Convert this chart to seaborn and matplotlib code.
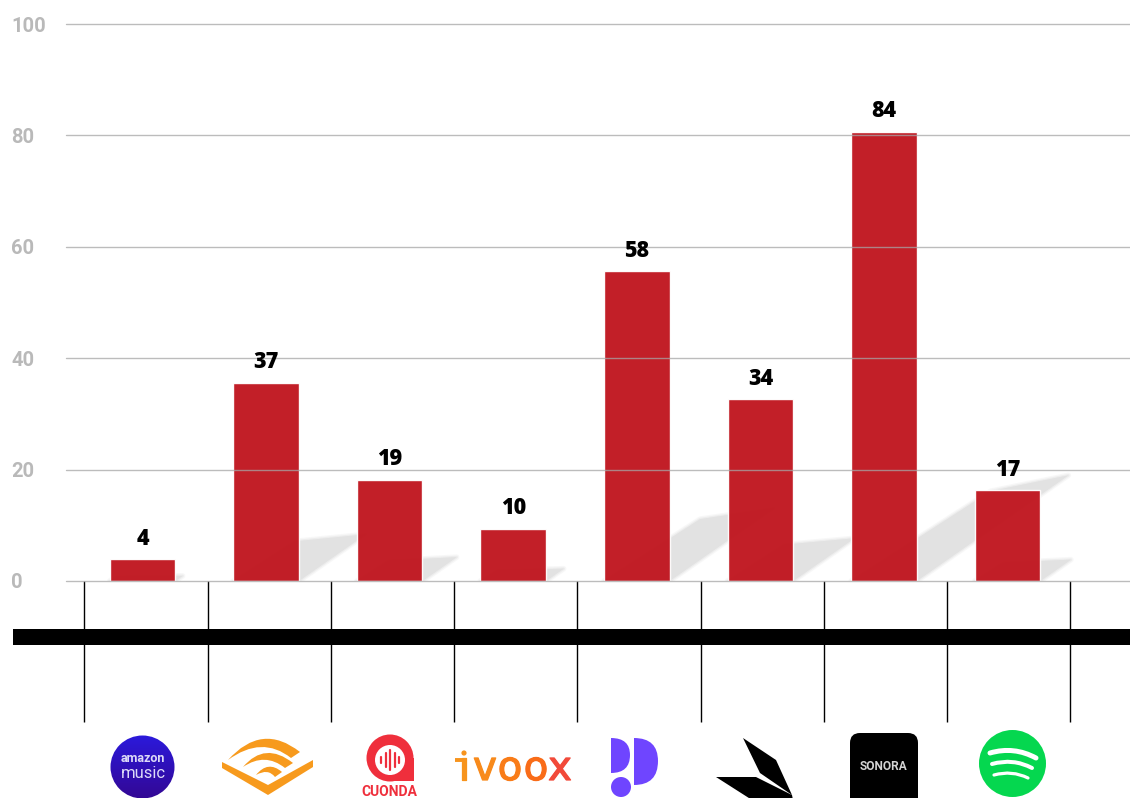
import numpy as np
import seaborn as sns
import matplotlib.pyplot as plt
import matplotlib.patheffects as pe
from matplotlib.patches import Circle, Ellipse, FancyBboxPatch, PathPatch, Polygon, Rectangle
from matplotlib.path import Path

platforms = ['Amazon Music', 'Audible', 'Cuonda', 'iVoox', 'Podimo', 'Podium', 'Sonora', 'Spotify']
bar_values = [3.9, 35.6, 18.2, 9.4, 55.6, 32.6, 80.7, 16.3]
bar_labels = ['4', '37', '19', '10', '58', '34', '84', '17']
y_ticks = [0, 20, 40, 60, 80, 100]

RED = '#c0161f'
W, H = 1130, 798


def curve(ax, pts, color, lw_px):
    # stroked quadratic curve, width given in pixels
    path = Path(pts, [Path.MOVETO, Path.CURVE3, Path.CURVE3])
    ax.add_patch(PathPatch(path, fill=False, edgecolor=color, lw=lw_px * 0.72, capstyle='round'))


def crescent(ax, a, ctrl1, b, c, ctrl2, d, color):
    path = Path([a, ctrl1, b, c, ctrl2, d, a],
                [Path.MOVETO, Path.CURVE3, Path.CURVE3, Path.LINETO, Path.CURVE3, Path.CURVE3, Path.CLOSEPOLY])
    ax.add_patch(PathPatch(path, facecolor=color, edgecolor='none'))


def amazon_logo(ax):
    yy = np.linspace(0, 1, 64).reshape(-1, 1, 1)
    top, bottom = np.array([0.17, 0.10, 0.86]), np.array([0.20, 0.03, 0.58])
    grad = top + (bottom - top) * yy
    img = ax.imshow(grad, extent=(110, 175, 799, 735), aspect='auto', zorder=2)
    img.set_clip_path(Ellipse((142.5, 767), 64, 63, transform=ax.transData))
    ax.text(143, 758, 'amazon', color='#dcdaf8', fontsize=9, fontweight='bold',
            family='Roboto', ha='center', va='center', zorder=3)
    ax.text(143, 774, 'music', color='#dcdaf8', fontsize=12, family='Roboto',
            ha='center', va='center', zorder=3)
    curve(ax, [(128, 764), (142, 769), (154, 763)], '#9fb4ff', 1.2)


def audible_logo(ax):
    c = '#f79a1d'
    ax.add_patch(Polygon([(222, 762), (268, 785), (313, 760), (313, 767), (268, 795), (222, 768)],
                         color=c, lw=0))
    crescent(ax, (228, 760), (262, 722), (300, 752), (291, 758), (262, 735), (228, 760), c)
    crescent(ax, (243, 767), (265, 741), (293, 763), (285, 768), (265, 752), (243, 767), c)
    crescent(ax, (256, 775), (268, 760), (282, 772), (275, 777), (268, 768), (256, 775), c)


def cuonda_logo(ax):
    c = '#ef2f3c'
    ax.add_patch(Circle((390, 758), 23.5, color=c, lw=0))
    ax.add_patch(Polygon([(366.5, 758), (413.5, 758), (413.5, 781), (390, 781)], color=c, lw=0))
    ax.add_patch(Circle((390, 760), 15, color='white', lw=0))
    for dx, half in zip([-9, -4.5, 0, 4.5, 9], [3, 7, 10, 7, 3]):
        ax.plot([390 + dx] * 2, [760 - half, 760 + half], color=c, lw=1.6, solid_capstyle='round')
    ax.text(389.5, 791.5, 'CUONDA', color=c, fontsize=10, fontweight='bold', family='Roboto',
            ha='center', va='center')


def ivoox_logo(ax):
    letters = ['ı', 'v', 'o', 'o', 'x']
    xs = [464, 485, 510, 536, 560]
    colors = ['#f7941d', '#f88a1b', '#f97c18', '#f96c18', '#f24a3a']
    for ch, x, c in zip(letters, xs, colors):
        ax.text(x, 780, ch, color=c, fontsize=29, family='DejaVu Sans', ha='center', va='baseline',
                path_effects=[pe.withStroke(linewidth=0.9, foreground=c)])
    ax.plot([455, 466], [759.5, 759.5], color=colors[0], lw=2.8, solid_capstyle='butt')
    ax.add_patch(Circle((464, 753), 2.6, color=colors[0], lw=0))


def podimo_logo(ax):
    c = '#6f45ff'
    left = Path([(611, 738), (630, 738), (630, 755), (630, 773), (611, 773), (611, 738)],
                [Path.MOVETO, Path.CURVE3, Path.CURVE3, Path.CURVE3, Path.CURVE3, Path.CLOSEPOLY])
    right = Path([(634, 738), (658, 738), (658, 761), (658, 785), (634, 785), (634, 738)],
                 [Path.MOVETO, Path.CURVE3, Path.CURVE3, Path.CURVE3, Path.CURVE3, Path.CLOSEPOLY])
    ax.add_patch(PathPatch(left, color=c, lw=0))
    ax.add_patch(PathPatch(right, color=c, lw=0))
    ax.add_patch(Circle((621, 787), 10, color=c, lw=0))


def podium_logo(ax):
    ax.add_patch(Polygon([(743, 738), (776, 760), (792, 795), (760, 773)], color='black', lw=0))
    ax.add_patch(Polygon([(716, 777), (756, 777), (792, 795), (793, 800), (752, 800)], color='black', lw=0))


def sonora_logo(ax):
    ax.add_patch(FancyBboxPatch((860, 743), 48, 60, boxstyle='round,pad=10,rounding_size=10',
                                facecolor='black', edgecolor='none'))
    ax.text(884, 767, 'SONORA', color='#d4d4d4', fontsize=8.6, fontweight='bold', family='Roboto',
            ha='center', va='center')


def spotify_logo(ax):
    ax.add_patch(Circle((1012.5, 763.5), 33.5, color='#05d74f', lw=0))
    curve(ax, [(990, 753), (1014, 746), (1036, 758)], 'white', 5)
    curve(ax, [(992, 764), (1013, 758), (1032, 768)], 'white', 4)
    curve(ax, [(994, 775), (1012, 770), (1028, 778)], 'white', 3.2)


sns.set_style('white')
fig = plt.figure(figsize=(W / 100, H / 100), dpi=100)
ax = fig.add_axes([66 / W, 1 - 581 / H, (W - 66) / W, (581 - 24) / H])

sns.barplot(x=platforms, y=bar_values, color=RED, saturation=1, width=0.53, alpha=0.96, ax=ax)

# slanted shadows behind the bars, taken from each drawn bar
for bar in ax.patches:
    h = bar.get_height()
    left, right = bar.get_x(), bar.get_x() + bar.get_width()
    dx, dy = 0.0152 * h, 0.235 * h
    corners = [(left, 0), (right, 0), (right + dx, dy), (left + 0.92 * dx, 0.85 * dy)]
    # a few wider, fainter outlines give the soft edge
    for lw, alpha in [(4, 0.25), (2, 0.45), (0, 1)]:
        ax.add_patch(Polygon(corners, closed=True, facecolor='#e2e2e2', edgecolor='#e2e2e2',
                             lw=lw, alpha=alpha, zorder=0.5, joinstyle='round'))

for bar, label in zip(ax.patches, bar_labels):
    ax.annotate(label, (bar.get_x() + bar.get_width() / 2, bar.get_height()), xytext=(0, 14.6),
                textcoords='offset points', ha='center', va='center', fontsize=15.5, fontweight='black',
                family=['Open Sans', 'Lato'], color='black', zorder=5)

ax.set_xlim(-0.619, 7.991)
ax.set_ylim(0, 100)
ax.set_yticks(y_ticks)
ax.set_xticks(-0.471 + 0.9974 * np.arange(len(platforms) + 1), labels=[])
ax.tick_params(axis='x', length=101.5, width=1, color='black', bottom=True)
ax.tick_params(axis='y', pad=39.5, length=0, labelsize=14.5, labelcolor='#b9b9b9')
for lab in ax.get_yticklabels():
    lab.set_ha('left')
    lab.set_fontweight('bold')
    lab.set_family('Roboto')

ax.set_axisbelow(False)
ax.grid(axis='y', color='#a6a6a6', alpha=0.75, lw=1)
ax.grid(axis='x', visible=False)
for line in ax.get_ygridlines():
    line.set_clip_on(False)
sns.despine(ax=ax, left=True, right=True, top=True, bottom=True)
ax.patch.set_alpha(0)

# logos and the black band live on a pixel-sized overlay
over = fig.add_axes([0, 0, 1, 1], zorder=10)
over.patch.set_alpha(0)
over.axis('off')
over.add_patch(Rectangle((13, 629), W - 13, 16, color='black', lw=0))

amazon_logo(over)
audible_logo(over)
cuonda_logo(over)
ivoox_logo(over)
podimo_logo(over)
podium_logo(over)
sonora_logo(over)
spotify_logo(over)

over.set_xlim(0, W)
over.set_ylim(H, 0)

fig.savefig('out.png', dpi=100, facecolor='white')
